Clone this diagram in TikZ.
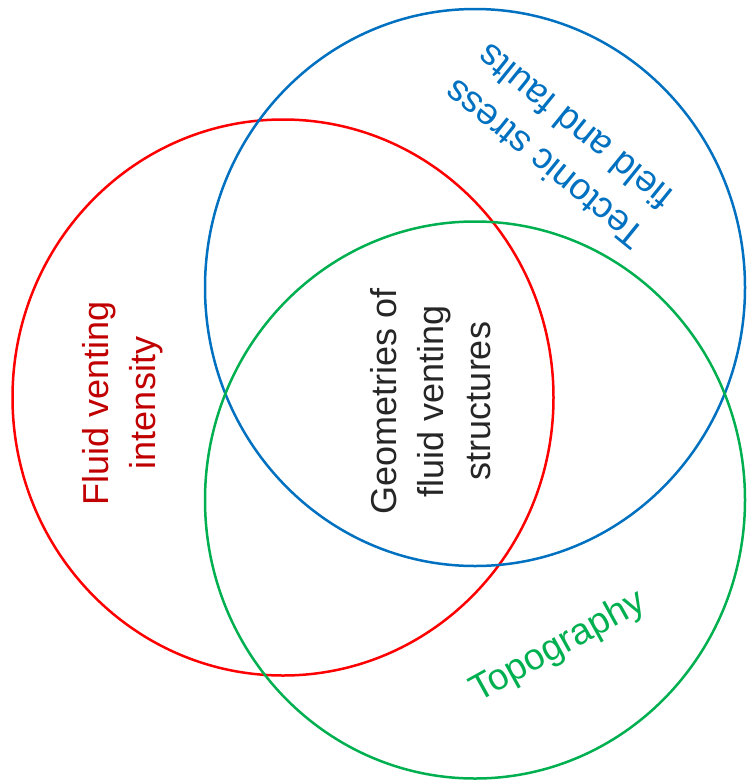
\documentclass[tikz,border=0pt]{standalone}
\usepackage{fontspec}
\setmainfont{Liberation Sans}
\definecolor{cred}{HTML}{FF0000}
\definecolor{tred}{HTML}{C00000}
\definecolor{cblue}{HTML}{0070C0}
\definecolor{cgreen}{HTML}{00B050}
\definecolor{tgray}{HTML}{262626}
\begin{document}
\begin{tikzpicture}[x=1pt,y=-1pt,
  ring/.style={line width=2.5pt},
  lbl/.style={inner sep=0pt,align=center,font=\fontsize{36}{47}\selectfont}]
\useasboundingbox (0,0) rectangle (747,782);
\draw[ring,cred] (283,397.5) ellipse [x radius=270.5, y radius=278];
\draw[ring,cblue] (475,287.5) ellipse [x radius=270, y radius=278.5];
\draw[ring,cgreen] (475,500) ellipse [x radius=270, y radius=278.5];
\node[lbl,text=tred,rotate=90] (fluid) at (123,403) {Fluid venting\\intensity};
\node[lbl,text=tgray,rotate=90] (geom) at (431,401) {Geometries of\\fluid venting\\structures};
\node[lbl,text=cblue,rotate=141,font=\fontsize{37}{48}\selectfont] (tect) at (559,146) {Tectonic stress\\field and faults};
\node[lbl,text=cgreen,rotate=29,font=\fontsize{37}{48}\selectfont] (topo) at (558,647) {Topography};
\end{tikzpicture}
\end{document}
